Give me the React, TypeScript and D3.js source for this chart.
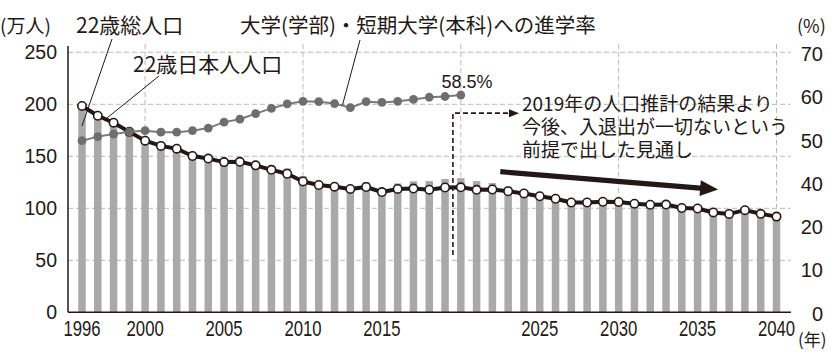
import React, { useEffect, useRef } from 'react';
import * as d3 from 'd3';

// 年
const years = [
  1996, 1997, 1998, 1999, 2000, 2001, 2002, 2003, 2004, 2005, 2006, 2007, 2008, 2009, 2010,
  2011, 2012, 2013, 2014, 2015, 2016, 2017, 2018, 2019, 2020, 2021, 2022, 2023, 2024, 2025,
  2026, 2027, 2028, 2029, 2030, 2031, 2032, 2033, 2034, 2035, 2036, 2037, 2038, 2039, 2040,
];

// 22歳総人口（万人）: 棒
const totalPop = [
  199.5, 190.5, 183.5, 176.5, 166.5, 161.5, 159, 152, 149.5, 146, 146, 143, 141, 138.4, 131,
  124.5, 122.4, 120.8, 125, 119, 124, 126, 126.2, 128.2, 129, 126.2, 124.3, 120.8, 117, 114,
  111.5, 108, 108, 108.6, 108.4, 106.7, 105.8, 106, 102.6, 102, 99, 98.4, 100.2, 96.7, 93.8,
];

// 22歳日本人人口（万人）: 白丸の線
const japanesePop = [
  198.4, 189, 182.3, 173.5, 165, 160, 157.3, 150.3, 147.8, 144.4, 144.7, 141.3, 137, 133.2, 125.8,
  122.4, 120.8, 118.6, 120.5, 115.6, 118.6, 119, 117.9, 120, 120.2, 117.8, 118.1, 116.4, 114.3, 111.6,
  109.2, 105.6, 105.6, 106.3, 106.1, 104.4, 103.4, 103.6, 100.3, 99.8, 96, 94.6, 98.2, 94.7, 92,
];

// 大学（学部）・短期大学（本科）への進学率（%）: 1996〜2020
const rateYears = [
  1996, 1997, 1998, 1999, 2000, 2001, 2002, 2003, 2004, 2005, 2006, 2007, 2008,
  2009, 2010, 2011, 2012, 2013, 2014, 2015, 2016, 2017, 2018, 2019, 2020,
];
const entryRate = [
  46.2, 47.3, 48.0, 48.6, 48.9, 48.5, 48.5, 48.9, 49.6, 51.2, 52.0, 53.5, 54.9,
  56.1, 56.8, 56.7, 56.2, 55.1, 56.7, 56.5, 56.8, 57.3, 57.9, 58.1, 58.5,
];

const xTickYears = [1996, 2000, 2005, 2010, 2015, 2025, 2030, 2035, 2040];
const leftTicks = [0, 50, 100, 150, 200, 250];
const rightTickLabels = ['0', '10', '20', '40', '50', '60', '70'];
const gridYears = [2000, 2010, 2020, 2030, 2040];

const noteLines = ['2019年の人口推計の結果より', '今後、入退出が一切ないという', '前提で出した見通し'];

const W = 837;
const H = 362;
const JP = '"Noto Sans CJK JP", "Noto Sans", sans-serif';
const NUM = '"Liberation Sans", Arial, sans-serif';
const INK = '#231815';

const App = () => {
  const ref = useRef<SVGSVGElement>(null);

  useEffect(() => {
    const svg = d3.select(ref.current);
    svg.selectAll('*').remove();

    const x = d3.scaleLinear().domain([1996, 2040]).range([82, 776.5]);
    const yL = d3.scaleLinear().domain([0, 250]).range([312.3, 52.3]);
    const yR = d3.scaleLinear().domain([0, 70]).range([312.3, 52.3]);
    // the printed right-hand labels sit on their own even spacing
    const rightPos = d3.scalePoint<string>().domain(rightTickLabels).range([313.5, 54]);
    const barW = 7.5;
    const axisX = 68;
    const axisEnd = 791;

    svg.append('rect').attr('width', W).attr('height', H).attr('fill', '#fff');

    // grid
    const grid = svg.append('g').attr('stroke', '#b9b9b9').attr('stroke-width', 1).attr('stroke-dasharray', '5,3');
    grid.selectAll('line.h').data(leftTicks.filter((d) => d > 0)).enter().append('line')
      .attr('x1', axisX).attr('x2', axisEnd)
      .attr('y1', (d) => yL(d)).attr('y2', (d) => yL(d));
    grid.selectAll('line.v').data(gridYears).enter().append('line')
      .attr('x1', (d) => x(d)).attr('x2', (d) => x(d))
      .attr('y1', 44).attr('y2', yL(0));

    // bars
    svg.append('g').selectAll('rect').data(years).enter().append('rect')
      .attr('x', (d) => x(d) - barW / 2)
      .attr('width', barW)
      .attr('y', (_, i) => yL(totalPop[i]))
      .attr('height', (_, i) => yL(0) - yL(totalPop[i]))
      .attr('fill', '#a9a9a9');

    // axes
    svg.append('line').attr('x1', axisX).attr('x2', axisX).attr('y1', 46).attr('y2', yL(0))
      .attr('stroke', INK).attr('stroke-width', 1.5);
    svg.append('line').attr('x1', axisX).attr('x2', axisEnd).attr('y1', yL(0)).attr('y2', yL(0))
      .attr('stroke', INK).attr('stroke-width', 1.5);

    // 日本人人口 line
    const jpLine = d3.line<number>().x((_, i) => x(years[i])).y((d) => yL(d));
    svg.append('path').datum(japanesePop).attr('d', jpLine)
      .attr('fill', 'none').attr('stroke', INK).attr('stroke-width', 4).attr('stroke-linejoin', 'round');
    svg.append('g').selectAll('circle').data(japanesePop).enter().append('circle')
      .attr('cx', (_, i) => x(years[i])).attr('cy', (d) => yL(d)).attr('r', 4.2)
      .attr('fill', '#fff').attr('stroke', INK).attr('stroke-width', 1.6);

    // 進学率 line
    const rLine = d3.line<number>().x((_, i) => x(rateYears[i])).y((d) => yR(d));
    svg.append('path').datum(entryRate).attr('d', rLine)
      .attr('fill', 'none').attr('stroke', '#7a7a7a').attr('stroke-width', 2);
    svg.append('g').selectAll('circle').data(entryRate).enter().append('circle')
      .attr('cx', (_, i) => x(rateYears[i])).attr('cy', (d) => yR(d)).attr('r', 4.4)
      .attr('fill', '#6e6e6e');

    // tick labels
    svg.append('g').selectAll('text').data(leftTicks).enter().append('text')
      .attr('x', 57).attr('y', (d) => yL(d) + 7)
      .attr('text-anchor', 'end').attr('font-family', NUM).attr('font-size', 19.5).attr('fill', INK)
      .text((d) => d);
    svg.append('g').selectAll('text').data(rightTickLabels).enter().append('text')
      .attr('x', 823).attr('y', (d) => (rightPos(d) as number) + 7)
      .attr('text-anchor', 'end').attr('font-family', NUM).attr('font-size', 20).attr('fill', INK)
      .text((d) => d);
    // year labels are printed in a condensed face
    svg.append('g').selectAll('text').data(xTickYears).enter().append('text')
      .attr('transform', (d) => `translate(${x(d)},336) scale(0.76,1)`)
      .attr('text-anchor', 'middle').attr('font-family', NUM).attr('font-size', 22).attr('fill', INK)
      .text((d) => d);

    const label = (tx: number, ty: number, s: string, size: number, anchor = 'start') =>
      svg.append('text').attr('x', tx).attr('y', ty).attr('font-family', JP).attr('font-size', size)
        .attr('fill', INK).attr('text-anchor', anchor).text(s);

    label(0, 33, '(万人)', 19);
    label(76, 33, '22歳総人口', 21);
    label(133, 72, '22歳日本人人口', 21);
    label(240, 33, '大学(学部)・短期大学(本科)への進学率', 20.5);
    label(797, 33, '(%)', 18);
    label(798, 346, '(年)', 17);
    svg.append('text').attr('x', 467).attr('y', 88).attr('text-anchor', 'middle')
      .attr('font-family', NUM).attr('font-size', 18).attr('fill', INK)
      .attr('textLength', 51).attr('lengthAdjust', 'spacingAndGlyphs')
      .text(`${entryRate[entryRate.length - 1]}%`);

    // three-line note as one text block
    const note = svg.append('text').attr('font-family', JP).attr('font-size', 19).attr('fill', INK);
    noteLines.forEach((s, i) => {
      note.append('tspan').attr('x', 522).attr('y', 111 + i * 23).text(s);
    });

    // leader lines
    const leaders = [
      [112, 39, 82, 126],
      [159, 76, 107, 118],
      [360, 40, 342.5, 105],
    ];
    svg.append('g').selectAll('line').data(leaders).enter().append('line')
      .attr('x1', (d) => d[0]).attr('y1', (d) => d[1]).attr('x2', (d) => d[2]).attr('y2', (d) => d[3])
      .attr('stroke', INK).attr('stroke-width', 1);

    // dashed pointer from 2019
    const px = x(2019.5);
    const py = yL(191.5);
    svg.append('path')
      .attr('d', `M${px},${yL(55)}V${py}H${512}`)
      .attr('fill', 'none').attr('stroke', INK).attr('stroke-width', 1.6).attr('stroke-dasharray', '5,3');
    svg.append('path').attr('d', `M${519},${py}L${509},${py - 4}L${509},${py + 4}Z`).attr('fill', INK);

    // big trend arrow
    const ax0 = x(2022.5), ay0 = yL(135.2);
    const ax1 = x(2036.3), ay1 = yL(118);
    const len = Math.hypot(ax1 - ax0, ay1 - ay0);
    const ux = (ax1 - ax0) / len, uy = (ay1 - ay0) / len;
    const headL = 18, headW = 8, shaft = 2.6;
    const bx = ax1 - ux * headL, by = ay1 - uy * headL;
    const nx = -uy, ny = ux;
    const pts = [
      [ax0 + nx * shaft, ay0 + ny * shaft],
      [bx + nx * shaft, by + ny * shaft],
      [bx + nx * headW, by + ny * headW],
      [ax1, ay1],
      [bx - nx * headW, by - ny * headW],
      [bx - nx * shaft, by - ny * shaft],
      [ax0 - nx * shaft, ay0 - ny * shaft],
    ];
    svg.append('polygon').attr('points', pts.map((p) => p.join(',')).join(' ')).attr('fill', INK);
  }, []);

  return (
    <svg
      ref={ref}
      width={W}
      height={H}
      style={{ position: 'absolute', left: 0, top: 0, display: 'block' }}
    />
  );
};

export default App;
